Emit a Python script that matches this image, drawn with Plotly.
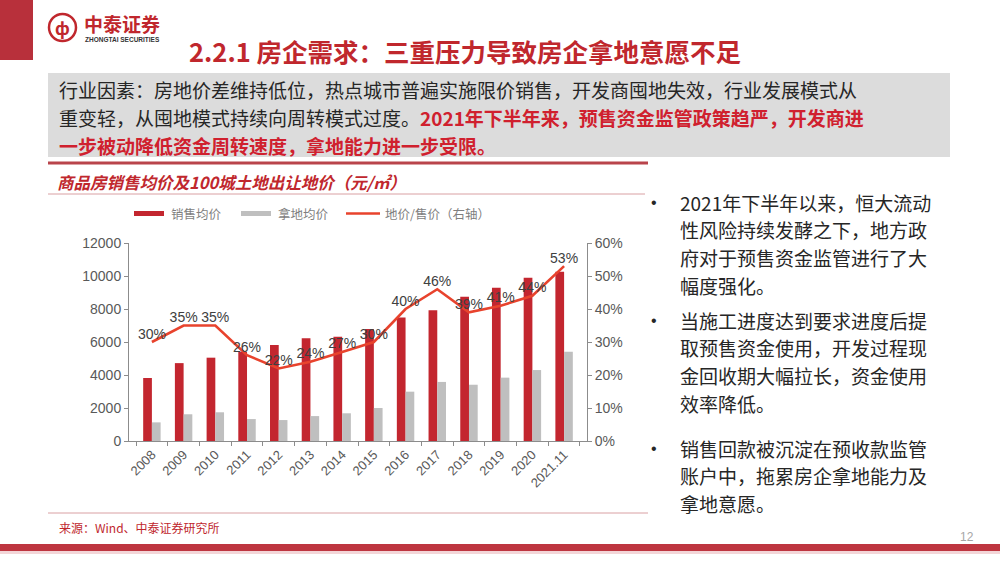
import plotly.graph_objects as go

# ---------------- data ----------------
years = ["2008", "2009", "2010", "2011", "2012", "2013", "2014", "2015",
         "2016", "2017", "2018", "2019", "2020", "2021.11"]
sales_price = [3820, 4720, 5050, 5410, 5820, 6220, 6320, 6790,
               7490, 7920, 8750, 9290, 9900, 10260]
land_price = [1130, 1620, 1740, 1330, 1270, 1510, 1680, 2000,
              2990, 3580, 3410, 3840, 4300, 5410]
ratio_pct = [30, 35, 35, 26, 22, 24, 27, 30, 40, 46, 39, 41, 44, 53]

left_ticks = [0, 2000, 4000, 6000, 8000, 10000, 12000]
right_ticks = [0, 10, 20, 30, 40, 50, 60]

W, H = 1000, 562
RED = "#C3262F"
GRAY_BAR = "#BFBFBF"
LINE = "#E8432D"
TXT = "#404040"
TITLE_RED = "#C0272D"
FONT = "Liberation Sans, Arial, Noto Sans CJK SC, sans-serif"
CJK = "Noto Sans CJK SC, Liberation Sans, sans-serif"


def px(x):
    return x / W


def py(y):
    return 1 - y / H


fig = go.Figure()
fig.add_trace(go.Bar(x=years, y=sales_price, name="销售均价",
                     marker=dict(color=RED, line=dict(width=0)), showlegend=False))
fig.add_trace(go.Bar(x=years, y=land_price, name="拿地均价",
                     marker=dict(color=GRAY_BAR, line=dict(width=0)), showlegend=False))
fig.add_trace(go.Scatter(x=years, y=ratio_pct, name="地价/售价（右轴）", yaxis="y2",
                         mode="lines+text", line=dict(color=LINE, width=2.6),
                         text=[f"{v}%" for v in ratio_pct], textposition="top center",
                         textfont=dict(family=FONT, size=14, color=TXT),
                         showlegend=False, cliponaxis=False))

fig.update_layout(
    width=W, height=H, autosize=False,
    margin=dict(l=0, r=0, t=0, b=0, pad=0),
    paper_bgcolor="white", plot_bgcolor="white",
    barmode="group", bargap=0.45, bargroupgap=0,
    showlegend=False,
    font=dict(family=FONT, color=TXT),
    xaxis=dict(domain=[px(129), px(587)], type="category", automargin=False,
               tickangle=-45, tickfont=dict(size=13, color="#595959"),
               showline=True, linecolor="#8c8c8c", linewidth=1,
               ticks="outside", ticklen=4, tickcolor="#8c8c8c", tickson="boundaries",
               showgrid=False, anchor="y"),
    yaxis=dict(domain=[py(441), py(243)], range=[0, 12000], automargin=False,
               tickvals=left_ticks, ticktext=[str(v) for v in left_ticks],
               tickfont=dict(size=14, color="#595959"),
               showline=True, linecolor="#8c8c8c", linewidth=1,
               ticks="outside", ticklen=4, tickcolor="#8c8c8c",
               showgrid=False, zeroline=False),
    yaxis2=dict(overlaying="y", side="right", range=[0, 60], automargin=False,
                tickvals=right_ticks, ticktext=[f"{v}%" for v in right_ticks],
                tickfont=dict(size=14, color="#595959"),
                showline=True, linecolor="#8c8c8c", linewidth=1,
                ticks="outside", ticklen=4, tickcolor="#8c8c8c",
                showgrid=False, zeroline=False, anchor="x"),
)

shapes = []
annotations = []


def rect(x0, y0, x1, y1, color, line=None):
    shapes.append(dict(type="rect", xref="paper", yref="paper",
                       x0=px(x0), x1=px(x1), y0=py(y1), y1=py(y0),
                       fillcolor=color, line=dict(width=0) if line is None else line,
                       layer="below"))


def hline(x0, x1, y, color, width):
    shapes.append(dict(type="line", xref="paper", yref="paper",
                       x0=px(x0), x1=px(x1), y0=py(y), y1=py(y),
                       line=dict(color=color, width=width)))


def text(x, y, s, size, color=TXT, family=CJK, anchor="left"):
    annotations.append(dict(xref="paper", yref="paper", x=px(x), y=py(y),
                            text=s, showarrow=False, xanchor=anchor, yanchor="middle",
                            align="left", borderpad=0,
                            font=dict(size=size, color=color, family=family)))


# left red tab at top
rect(0, 0, 33, 60, "#B8303B")
# logo
shapes.append(dict(type="circle", xref="paper", yref="paper",
                   x0=px(49), x1=px(76), y0=py(41), y1=py(14),
                   line=dict(color=TITLE_RED, width=2.5), fillcolor="white"))
text(62.5, 27.5, "<b>ф</b>", 17, TITLE_RED, anchor="center")
text(83, 23, "<b>中泰证券</b>", 19, TITLE_RED)
text(84, 40, "<b>ZHONGTAI SECURITIES</b>", 6.5, "#333333", FONT)

# main title
text(188, 50, "<b>2.2.1 房企需求：三重压力导致房企拿地意愿不足</b>", 25.5, TITLE_RED)

# gray box
rect(48, 73, 950, 157, "#DCDCDC")
FS_BOX = 19.0
text(58, 89.5, "行业因素：房地价差维持低位，热点城市普遍实施限价销售，开发商囤地失效，行业发展模式从",
     FS_BOX, "#262626")
text(58, 117.5, "重变轻，从囤地模式持续向周转模式过度。"
     "<span style='color:#D0202E'><b>2021年下半年来，预售资金监管政策趋严，开发商进</b></span>",
     FS_BOX, "#262626")
text(58, 145.5, "<b>一步被动降低资金周转速度，拿地能力进一步受限。</b>", FS_BOX, "#D0202E")

# red rule under box
hline(48, 648, 163, "#B9444B", 3)

# chart title
text(56, 182, "<b><i>商品房销售均价及100城土地出让地价（元/㎡）</i></b>", 16.5, TITLE_RED)
hline(48, 645, 194, "#D9A0A3", 1)

# manual legend
rect(134, 211, 164, 216, RED)
text(170, 213.5, "销售均价", 12.5, "#7F7F7F")
rect(241, 211, 271, 216, GRAY_BAR)
text(277, 213.5, "拿地均价", 12.5, "#7F7F7F")
hline(346, 380, 213.5, LINE, 2.6)
text(384, 213.5, "地价/售价（右轴）", 12.5, "#7F7F7F")

# right-hand bullet text
bullets = [
    (202, ["2021年下半年以来，恒大流动", "性风险持续发酵之下，地方政",
           "府对于预售资金监管进行了大", "幅度强化。"]),
    (320, ["当施工进度达到要求进度后提", "取预售资金使用，开发过程现",
           "金回收期大幅拉长，资金使用", "效率降低。"]),
    (448, ["销售回款被沉淀在预收款监管", "账户中，拖累房企拿地能力及",
           "拿地意愿。"]),
]
FS_R = 19.0
STEP = 27.7
for y0, lines in bullets:
    text(650, y0, "•", 16, "#262626", FONT)
    for i, s in enumerate(lines):
        text(679, y0 + i * STEP, s, FS_R, "#262626")

# footer
hline(48, 648, 513, "#D9A0A3", 1)
text(58, 527, "来源：Wind、中泰证券研究所", 12, TITLE_RED)
text(975, 537, "12", 12, "#A6A6A6", FONT, anchor="right")
rect(0, 544, 1000, 551, "#BE3540")
rect(0, 551, 1000, 554, "#F3D6D8")

fig.update_layout(shapes=shapes, annotations=annotations)
fig.write_html("out.html",
               config={"displayModeBar": False},
               post_script="document.body.style.margin='0';"
                           "document.body.style.overflow='hidden';")
